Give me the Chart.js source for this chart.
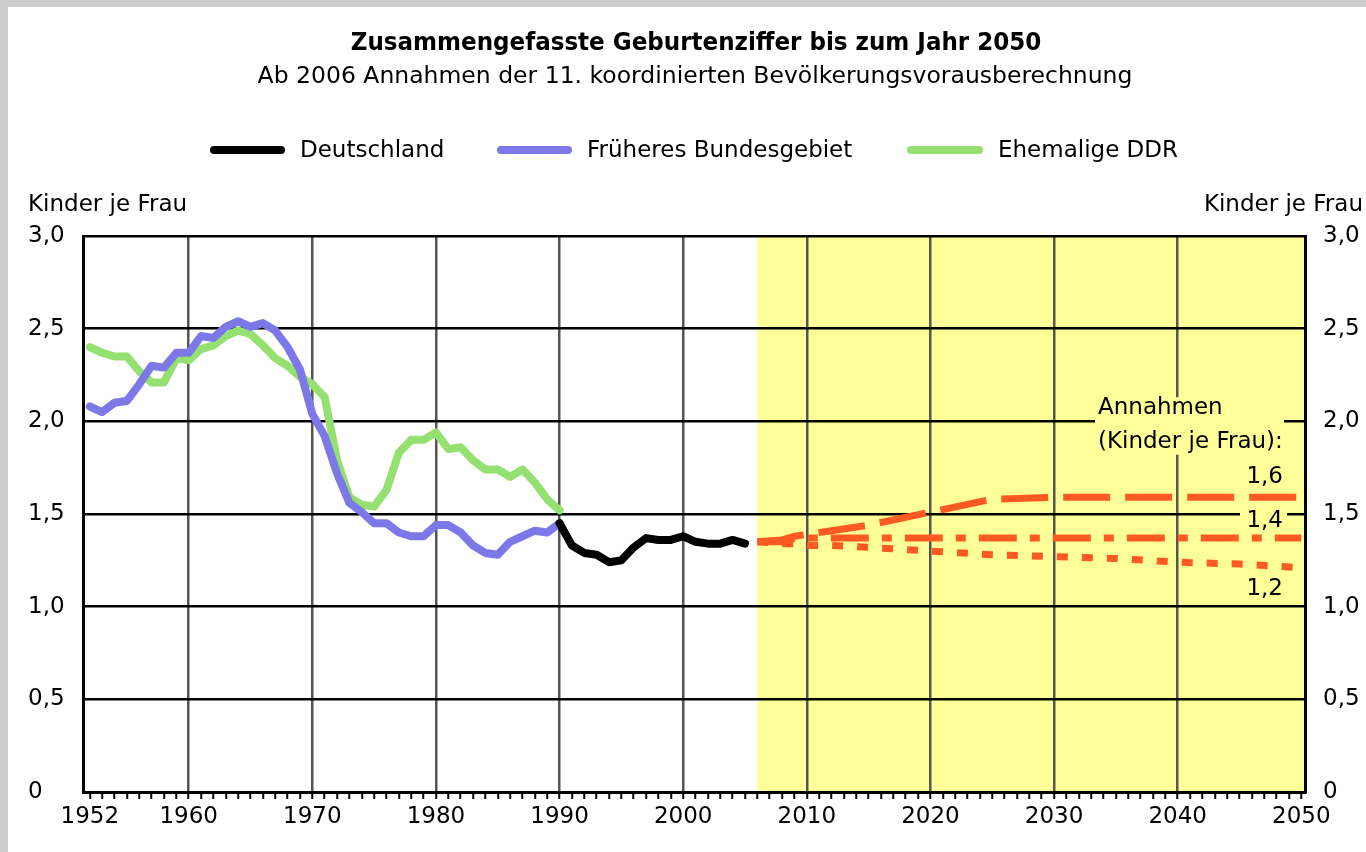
<!DOCTYPE html>
<html>
<head>
<meta charset="utf-8">
<title>Zusammengefasste Geburtenziffer bis zum Jahr 2050</title>
<script src="https://cdn.jsdelivr.net/npm/chart.js@4.4.1/dist/chart.umd.min.js"></script>
<style>
  html, body { margin: 0; padding: 0; background: #fff; }
  canvas { display: block; }
</style>
</head>
<body>
<canvas id="tfr" width="1366" height="852"></canvas>
<script>
// ---- data ----
const histYears = [1952, 1953, 1954, 1955, 1956, 1957, 1958, 1959, 1960, 1961, 1962, 1963, 1964,
  1965, 1966, 1967, 1968, 1969, 1970, 1971, 1972, 1973, 1974, 1975, 1976, 1977, 1978, 1979,
  1980, 1981, 1982, 1983, 1984, 1985, 1986, 1987, 1988, 1989, 1990];
const westValues = [2.08, 2.05, 2.10, 2.11, 2.20, 2.30, 2.29, 2.37, 2.37, 2.46, 2.45, 2.51, 2.54,
  2.51, 2.53, 2.49, 2.40, 2.28, 2.04, 1.92, 1.72, 1.56, 1.51, 1.45, 1.45, 1.40, 1.38, 1.38,
  1.44, 1.44, 1.40, 1.33, 1.29, 1.28, 1.35, 1.38, 1.41, 1.40, 1.45];
const eastValues = [2.40, 2.37, 2.35, 2.35, 2.27, 2.21, 2.21, 2.34, 2.33, 2.39, 2.41, 2.46, 2.49,
  2.47, 2.41, 2.34, 2.30, 2.24, 2.20, 2.13, 1.79, 1.59, 1.55, 1.54, 1.63, 1.83, 1.90, 1.90,
  1.94, 1.85, 1.86, 1.79, 1.74, 1.74, 1.70, 1.74, 1.67, 1.58, 1.52];

const gerYears = [1990, 1991, 1992, 1993, 1994, 1995, 1996, 1997, 1998, 1999, 2000, 2001, 2002,
  2003, 2004, 2005];
const gerValues = [1.45, 1.33, 1.29, 1.28, 1.24, 1.25, 1.32, 1.37, 1.36, 1.36, 1.38, 1.35, 1.34,
  1.34, 1.36, 1.34];

const projYears = [2006, 2008, 2009, 2010, 2012, 2015, 2020, 2025, 2030, 2035, 2040, 2045, 2050];
const proj16 = [1.35, 1.36, 1.38, 1.39, 1.41, 1.44, 1.51, 1.58, 1.59, 1.59, 1.59, 1.59, 1.59];
const proj14 = [1.35, 1.35, 1.37, 1.37, 1.37, 1.37, 1.37, 1.37, 1.37, 1.37, 1.37, 1.37, 1.37];
const proj12 = [1.35, 1.34, 1.34, 1.33, 1.33, 1.32, 1.30, 1.28, 1.27, 1.26, 1.24, 1.23, 1.21];

const xTickYears = [1952, 1953, 1954, 1955, 1956, 1957, 1958, 1959, 1960, 1961, 1962, 1963, 1964,
  1965, 1966, 1967, 1968, 1969, 1970, 1971, 1972, 1973, 1974, 1975, 1976, 1977, 1978, 1979,
  1980, 1981, 1982, 1983, 1984, 1985, 1986, 1987, 1988, 1989, 1990, 1991, 1992, 1993, 1994,
  1995, 1996, 1997, 1998, 1999, 2000, 2001, 2002, 2003, 2004, 2005, 2006, 2007, 2008, 2009,
  2010, 2011, 2012, 2013, 2014, 2015, 2016, 2017, 2018, 2019, 2020, 2021, 2022, 2023, 2024,
  2025, 2026, 2027, 2028, 2029, 2030, 2031, 2032, 2033, 2034, 2035, 2036, 2037, 2038, 2039,
  2040, 2041, 2042, 2043, 2044, 2045, 2046, 2047, 2048, 2049, 2050];
const xLabelYears = [1952, 1960, 1970, 1980, 1990, 2000, 2010, 2020, 2030, 2040, 2050];
const xGridYears = [1960, 1970, 1980, 1990, 2000, 2010, 2020, 2030, 2040];
const yTickValues = [0, 0.5, 1, 1.5, 2, 2.5, 3];
const yTickLabels = ['0', '0,5', '1,0', '1,5', '2,0', '2,5', '3,0'];

const projStart = 2006;
const seriesNames = ['Deutschland', 'Früheres Bundesgebiet', 'Ehemalige DDR'];
const seriesColors = ['#000000', '#7c78e8', '#94e070'];
const projColor = '#ff5a22';

const titleText = 'Zusammengefasste Geburtenziffer bis zum Jahr 2050';
const subtitleText = 'Ab 2006 Annahmen der 11. koordinierten Bevölkerungsvorausberechnung';
const unitText = 'Kinder je Frau';

const FONT = '"DejaVu Sans", "Noto Sans", sans-serif';

const pts = (xs, ys) => xs.map((x, i) => ({ x: x, y: ys[i] }));

function histLine(label, data, color) {
  return { label, data, yAxisID: 'yL', borderColor: color, borderWidth: 8, pointRadius: 0,
    borderCapStyle: 'round', borderJoinStyle: 'round', tension: 0, fill: false };
}
function projLine(label, data, dash) {
  return { label, data, yAxisID: 'yL', borderColor: projColor, borderWidth: 7, pointRadius: 0,
    borderDash: dash, borderCapStyle: 'butt', borderJoinStyle: 'round', tension: 0, fill: false };
}

// background, titles, legend, unit labels and the "Annahmen" notes
const decor = {
  id: 'decor',
  beforeDraw(chart) {
    const { ctx, chartArea: a, scales: { x } } = chart;
    ctx.save();
    ctx.fillStyle = '#cccccc';
    ctx.fillRect(0, 0, chart.width, 7);
    ctx.fillRect(0, 0, 8, chart.height);

    const x0 = x.getPixelForValue(projStart);
    ctx.fillStyle = '#ffff99';
    ctx.fillRect(x0, a.top, a.right - x0, a.bottom - a.top);

    ctx.fillStyle = '#000';
    ctx.textBaseline = 'alphabetic';
    ctx.textAlign = 'center';
    ctx.font = 'bold 25.6px "DejaVu Sans Condensed", ' + FONT;
    ctx.fillText(titleText, 696, 50);
    ctx.font = '23.5px ' + FONT;
    ctx.fillText(subtitleText, 695, 83);

    // legend
    const legendX = [[210, 285, 300], [497, 572, 587], [907, 983, 998]];
    ctx.font = '23px ' + FONT;
    ctx.textAlign = 'left';
    legendX.forEach(([l, r, t], i) => {
      ctx.strokeStyle = seriesColors[i];
      ctx.lineWidth = 8;
      ctx.lineCap = 'round';
      ctx.beginPath();
      ctx.moveTo(l + 4, 150);
      ctx.lineTo(r - 4, 150);
      ctx.stroke();
      ctx.fillStyle = '#000';
      ctx.fillText(seriesNames[i], t, 157);
    });

    ctx.fillText(unitText, 28, 211);
    ctx.textAlign = 'right';
    ctx.fillText(unitText, 1363, 211);
    ctx.restore();
  },
  afterDatasetsDraw(chart) {
    const { ctx, chartArea: a, scales: { yL } } = chart;
    const r = a.right - 22;
    ctx.save();
    ctx.fillStyle = '#ffff99';
    ctx.fillRect(1095, yL.getPixelForValue(2.13), r + 1 - 1095, yL.getPixelForValue(1.82) - yL.getPixelForValue(2.13));
    ctx.fillRect(1240, yL.getPixelForValue(1.55), 47, yL.getPixelForValue(1.41) - yL.getPixelForValue(1.55));
    ctx.fillStyle = '#000';
    ctx.font = '23px ' + FONT;
    ctx.textBaseline = 'alphabetic';
    ctx.textAlign = 'left';
    ctx.fillText('Annahmen', 1098, yL.getPixelForValue(2.04));
    ctx.fillText('(Kinder je Frau):', 1098, yL.getPixelForValue(1.856));
    ctx.textAlign = 'right';
    ctx.fillText('1,6', r, yL.getPixelForValue(1.667));
    ctx.fillText('1,4', r, yL.getPixelForValue(1.43));
    ctx.fillText('1,2', r, yL.getPixelForValue(1.063));
    ctx.restore();
  }
};

const yTicks = (axis) => { axis.ticks = yTickValues.map(v => ({ value: v })); };
const yLabel = (v) => yTickLabels[yTickValues.indexOf(v)];

new Chart(document.getElementById('tfr'), {
  type: 'line',
  data: {
    datasets: [
      histLine(seriesNames[0], pts(gerYears, gerValues), seriesColors[0]),
      histLine(seriesNames[1], pts(histYears, westValues), seriesColors[1]),
      histLine(seriesNames[2], pts(histYears, eastValues), seriesColors[2]),
      projLine('1,6', pts(projYears, proj16), [47, 15]),
      projLine('1,4', pts(projYears, proj14), [38, 13, 10, 13]),
      projLine('1,2', pts(projYears, proj12), [11, 14])
    ]
  },
  options: {
    responsive: false,
    devicePixelRatio: 1,
    animation: false,
    layout: { padding: { left: 28, right: 0, top: 236, bottom: 0 } },
    plugins: { legend: { display: false }, title: { display: false }, tooltip: { enabled: false } },
    scales: {
      x: {
        type: 'linear', position: 'bottom', min: 1951.45, max: 2050.3,
        afterBuildTicks: (axis) => { axis.ticks = xTickYears.map(v => ({ value: v })); },
        afterFit: (axis) => { axis.height = 60; },
        ticks: {
          autoSkip: false, maxRotation: 0, padding: 4, color: '#000',
          font: { family: FONT, size: 23 },
          callback: (v) => xLabelYears.includes(v) ? String(v) : ''
        },
        grid: {
          color: (c) => xGridYears.includes(c.tick && c.tick.value) ? '#555555' : 'rgba(0,0,0,0)',
          lineWidth: 2.5, tickColor: '#000', tickLength: 7, tickWidth: 2
        },
        border: { color: '#000', width: 3 }
      },
      yL: {
        type: 'linear', position: 'left', min: 0, max: 3,
        afterBuildTicks: yTicks,
        afterFit: (axis) => { axis.width = 55; },
        ticks: { crossAlign: 'far', color: '#000', font: { family: FONT, size: 23 }, callback: yLabel },
        grid: { color: '#000', lineWidth: 2.5, drawTicks: false },
        border: { color: '#000', width: 3 }
      },
      yR: {
        type: 'linear', position: 'right', min: 0, max: 3,
        afterBuildTicks: yTicks,
        afterFit: (axis) => { axis.width = 61; },
        ticks: { padding: 18, color: '#000', font: { family: FONT, size: 23 }, callback: yLabel },
        grid: { drawOnChartArea: false, drawTicks: false },
        border: { color: '#000', width: 3 }
      }
    }
  },
  plugins: [decor]
});
</script>
</body>
</html>
